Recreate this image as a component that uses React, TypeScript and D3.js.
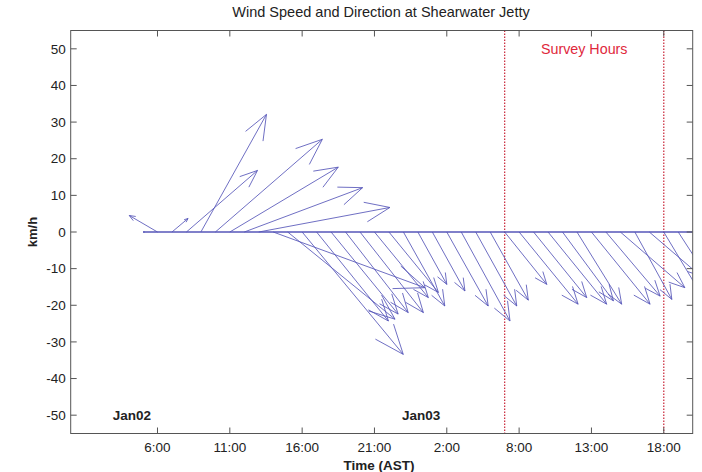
import React from "react";
import * as d3 from "d3";

// hourly wind vectors, hours counted from Jan02 00:00
const hours = [
  5, 6, 7, 8, 9, 10, 11, 12, 13, 14, 15, 16, 17, 18, 19, 20, 21, 22, 23, 24,
  25, 26, 27, 28, 29, 30, 31, 32, 33, 34, 35, 36, 37, 38, 39, 40, 41, 42,
];
// east component (km/h)
const uKmh = [
  0.4, -7.7, 4.4, 19.4, 17.9, 29.2, 29.6, 32.3, 35.8, 41.4, 29.3, 27.6, 19.6,
  18.3, 17.1, 17.3, 14.7, 13.5, 11.3, 7.9, 8.9, 11.3, 13.3, 11.2, 10.4, 11.5,
  16.1, 14.5, 16.0, 13.9, 12.2, 16.0, 14.8, 17.6, 10.1, 14.0, 12.0, 11.0,
];
// north component (km/h)
const vKmh = [
  0, 4.5, 3.7, 16.8, 32.1, 25.3, 17.7, 12.1, 6.7, -15.2, -23.8, -33.4, -24.3,
  -22.4, -22.0, -22.0, -17.9, -16.5, -20.2, -14.3, -16.1, -20.2, -24.3, -20.2,
  -18.6, -14.3, -19.7, -17.9, -19.7, -18.8, -19.7, -19.7, -17.5, -15.2, -18.4,
  -12.0, -20.0, -17.0,
];

const yTicks = [-50, -40, -30, -20, -10, 0, 10, 20, 30, 40, 50];
const xTicks = [6, 11, 16, 21, 26, 31, 36, 41];
const xTickLabels = ["6:00", "11:00", "16:00", "21:00", "2:00", "8:00", "13:00", "18:00"];
const dayHours = [2.9, 22.9];
const dayLabels = ["Jan02", "Jan03"];
const surveyBounds = [30, 41];

const width = 702;
const height = 472;
const left = 70.7;
const right = 692.7;
const top = 30.5;
const bottom = 433.5;
const font = "'Liberation Sans', Arial, sans-serif";
const arrowColor = "#5656b8";

export default function App() {
  const x = d3.scaleLinear().domain([0, 43]).range([left, right]);
  const y = d3.scaleLinear().domain([-55, 55]).range([bottom, top]);
  const k = y(0) - y(1); // px per km/h, same both ways

  const arrows = hours.map((h, i) => {
    const x0 = x(h);
    const y0 = y(0);
    const dx = uKmh[i] * k;
    const dy = -vKmh[i] * k;
    const x1 = x0 + dx;
    const y1 = y0 + dy;
    const len = Math.hypot(dx, dy) * 0.2;
    const ang = Math.atan2(dy, dx) + Math.PI;
    const spread = 0.38;
    const b1 = [x1 + len * Math.cos(ang + spread), y1 + len * Math.sin(ang + spread)];
    const b2 = [x1 + len * Math.cos(ang - spread), y1 + len * Math.sin(ang - spread)];
    return `M${x0},${y0}L${x1},${y1}M${b1[0]},${b1[1]}L${x1},${y1}L${b2[0]},${b2[1]}`;
  });

  return (
    <svg
      width={width}
      height={height}
      style={{ position: "absolute", left: 0, top: 0, background: "#fff" }}
      fontFamily={font}
    >
      <defs>
        <clipPath id="plot">
          <rect x={left} y={top} width={right - left} height={bottom - top} />
        </clipPath>
      </defs>

      <text x={381} y={17} textAnchor="middle" fontSize={14.5} fill="#222">
        Wind Speed and Direction at Shearwater Jetty
      </text>

      <g clipPath="url(#plot)">
        {surveyBounds.map((h) => (
          <line
            key={`s-${h}`}
            x1={x(h)}
            x2={x(h)}
            y1={top}
            y2={bottom}
            stroke="#cc3344"
            strokeWidth={1.3}
            strokeDasharray="1.5,1.5"
          />
        ))}
        <line
          x1={x(hours[0])}
          x2={right}
          y1={y(0)}
          y2={y(0)}
          stroke={arrowColor}
          strokeWidth={1.3}
        />
        {arrows.map((d, i) => (
          <path key={`a-${i}`} d={d} fill="none" stroke={arrowColor} strokeWidth={1} strokeOpacity={0.85} />
        ))}
      </g>

      <text
        x={(x(surveyBounds[0]) + x(surveyBounds[1])) / 2}
        y={54}
        textAnchor="middle"
        fontSize={14.3}
        fill="#e0283c"
      >
        Survey Hours
      </text>

      {dayLabels.map((lab, i) => (
        <text key={lab} x={x(dayHours[i])} y={y(-51.3)} fontSize={13.5} fontWeight="bold" fill="#222">
          {lab}
        </text>
      ))}

      {/* frame and inward ticks */}
      <rect x={left} y={top} width={right - left} height={bottom - top} fill="none" stroke="#555" strokeWidth={1} />
      {yTicks.map((t) => (
        <g key={`y-${t}`}>
          <line x1={left} x2={left + 6} y1={y(t)} y2={y(t)} stroke="#555" />
          <line x1={right - 6} x2={right} y1={y(t)} y2={y(t)} stroke="#555" />
          <text x={left - 5} y={y(t)} dy="0.35em" textAnchor="end" fontSize={13.5} fill="#222">
            {t}
          </text>
        </g>
      ))}
      {xTicks.map((t, i) => (
        <g key={`x-${t}`}>
          <line x1={x(t)} x2={x(t)} y1={bottom} y2={bottom - 6} stroke="#555" />
          <line x1={x(t)} x2={x(t)} y1={top} y2={top + 6} stroke="#555" />
          <text x={x(t)} y={452} textAnchor="middle" fontSize={13.5} fill="#222">
            {xTickLabels[i]}
          </text>
        </g>
      ))}

      <text x={379} y={470} textAnchor="middle" fontSize={13.5} fontWeight="bold" fill="#222">
        Time (AST)
      </text>
      <text
        transform={`translate(37,${y(0)}) rotate(-90)`}
        textAnchor="middle"
        fontSize={13}
        fontWeight="bold"
        fill="#222"
      >
        km/h
      </text>
    </svg>
  );
}
